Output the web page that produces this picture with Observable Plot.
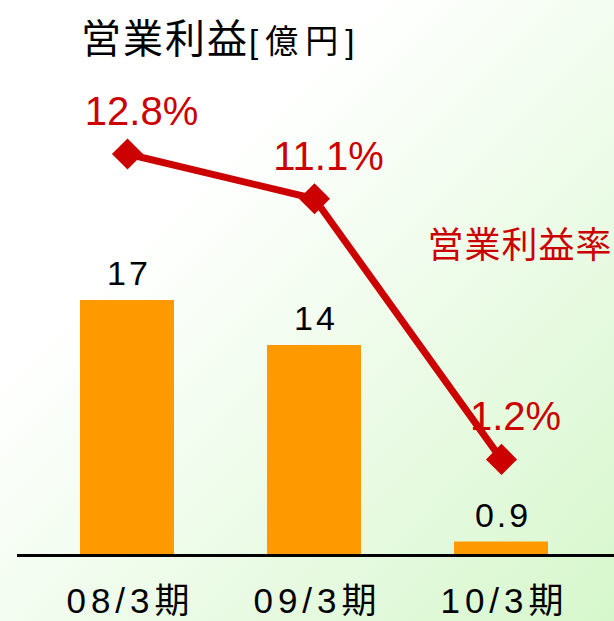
<!DOCTYPE html>
<html>
<head>
<meta charset="utf-8">
<script src="https://cdn.jsdelivr.net/npm/d3@7"></script>
<script src="https://cdn.jsdelivr.net/npm/@observablehq/plot@0.6"></script>
<style>
  html, body { margin: 0; padding: 0; width: 614px; height: 621px; overflow: hidden; }
  body {
    position: relative;
    font-family: "Liberation Sans", "Noto Sans CJK JP", sans-serif;
    background: linear-gradient(to bottom right, #ffffff 0%, #ffffff 30%, #d6f7cc 100%);
  }
  #title {
    position: absolute; left: 81px; top: 19px;
    font-size: 40px; line-height: 1; color: #000; white-space: nowrap;
    letter-spacing: 2px;
    font-family: "Liberation Sans", "Noto Sans CJK JP", sans-serif;
  }
  #title span { font-size: 33px; letter-spacing: 7px; margin-left: 0px; }
  #chart { position: absolute; left: 0; top: 0; }
  g[aria-description="period"] text { letter-spacing: 5px; }
  g[aria-description="bar value"] text { letter-spacing: 3px; }
  g[aria-description="series name"] text { letter-spacing: 1px; }
</style>
</head>
<body>
<div id="title">営業利益<span>[億円]</span></div>
<div id="chart"></div>
<script>
// ---- data ----
const periods = ["08/3期", "09/3期", "10/3期"];
const profit = [17, 14, 0.9];            // 営業利益 [億円]
const profitLabels = ["17", "14", "0.9"];
const margin = [12.8, 11.1, 1.2];        // 営業利益率 [%]
const marginLabels = ["12.8%", "11.1%", "1.2%"];
const seriesName = "営業利益率";

// ---- scales ----
const yDomain = [0, 37];                 // primary axis (億円)
const y2Domain = [-2.45, 18.63];         // secondary axis (%) mapped onto the primary
const y2 = d3.scaleLinear().domain(y2Domain).range(yDomain);

const rows = periods.map((p, i) => ({
  period: p,
  profit: profit[i],
  profitLabel: profitLabels[i],
  margin: margin[i],
  marginY: y2(margin[i]),
  marginLabel: marginLabels[i]
}));

const orange = "#ff9900";
const red = "#cc0000";

const chart = Plot.plot({
  width: 614,
  height: 621,
  marginTop: 0,
  marginBottom: 66,
  marginLeft: 61,
  marginRight: 48,
  style: { background: "transparent", overflow: "visible", fontFamily: "'Liberation Sans', 'Noto Sans CJK JP', sans-serif" },
  x: { domain: periods, paddingInner: 0.5, paddingOuter: 0.1, axis: null },
  y: { domain: yDomain, axis: null },
  marks: [
    Plot.barY(rows, { x: "period", y: "profit", fill: orange }),
    Plot.ruleY([0], { stroke: "#000", strokeWidth: 3, insetLeft: -44, insetRight: -48 }),
    Plot.text(rows, {
      x: "period", y: "profit", text: "profitLabel",
      fontSize: 34, fill: "#000", lineAnchor: "middle", dy: -26, dx: 1.5,
      ariaDescription: "bar value"
    }),
    Plot.line(rows, { x: "period", y: "marginY", stroke: red, strokeWidth: 7 }),
    Plot.dot(rows, { x: "period", y: "marginY", symbol: "diamond2", r: 14, fill: red, stroke: "none" }),
    Plot.text(rows, {
      x: "period", y: "marginY", text: "marginLabel",
      fontSize: 40, fill: red, lineAnchor: "middle", dx: 14, dy: -42
    }),
    Plot.text([seriesName], {
      frameAnchor: "top-right", text: d => d, textAnchor: "end",
      lineAnchor: "middle", dx: 46, dy: 246, fontSize: 36, fill: red,
      ariaDescription: "series name"
    }),
    Plot.text(periods, {
      x: d => d, text: d => d, frameAnchor: "bottom", lineAnchor: "top",
      dy: 33, dx: 3, fontSize: 35, fill: "#000", ariaDescription: "period"
    })
  ]
});
document.getElementById("chart").appendChild(chart);
</script>
</body>
</html>
